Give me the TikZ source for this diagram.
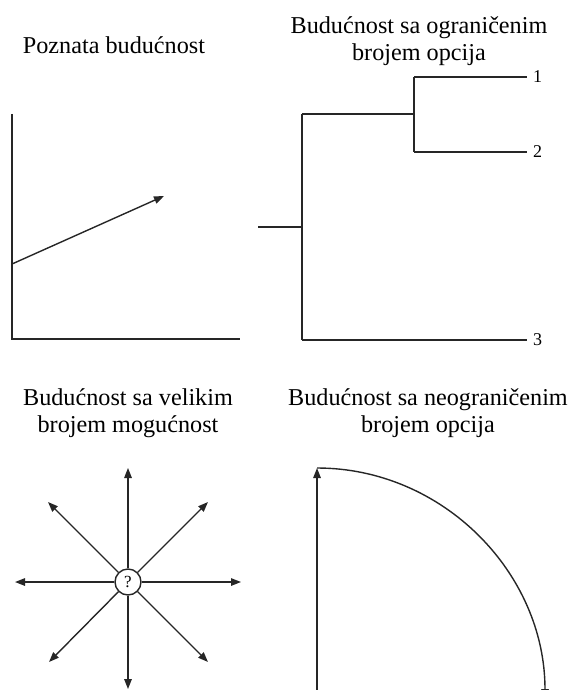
\documentclass[tikz,border=0pt]{standalone}
\usepackage{fontspec}
\setmainfont{Liberation Serif}
\usetikzlibrary{arrows.meta}
\begin{document}
\begin{tikzpicture}[x=1pt,y=-1pt,
  ln/.style={line width=1.4pt,draw=black!85},
  arr/.style={ln,-{Triangle[length=10pt,width=7.5pt]}},
  title/.style={font=\fontsize{24.2}{27.5}\selectfont,align=center,inner sep=0pt},
  lab/.style={font=\fontsize{18}{20}\selectfont,inner ysep=1pt,inner xsep=6pt,anchor=west}]
\useasboundingbox (0,0) rectangle (567,690);
% titles
\node[title] (t1) at (114,45) {Poznata budućnost};
\node[title] (t2) at (419,41) {Budućnost sa ograničenim\\brojem opcija};
\node[title] (t3) at (128,413) {Budućnost sa velikim\\brojem mogućnost};
\node[title] (t4) at (428,413) {Budućnost sa neograničenim\\brojem opcija};
% panel 1
\coordinate (ytop) at (12,114);
\coordinate (orig) at (12,339);
\coordinate (xend) at (240,339);
\coordinate (a0) at (12,264);
\coordinate (a1) at (164,196);
\draw[ln] (ytop) -- (orig) -- (xend);
\draw[arr] (a0) -- (a1);
% panel 2 tree
\coordinate (s0) at (258,227);
\coordinate (s1) at (302,227);
\coordinate (v1t) at (302,114);
\coordinate (v1b) at (302,340);
\coordinate (b1) at (414,114);
\coordinate (b1t) at (414,77);
\coordinate (b1b) at (414,152);
\node[lab] (l1) at (527,77) {1};
\node[lab] (l2) at (527,152) {2};
\node[lab] (l3) at (527,340) {3};
\draw[ln] (s0) -- (s1);
\draw[ln] (v1t) -- (v1b);
\draw[ln] (v1t) -- (b1);
\draw[ln] (b1t) -- (b1b);
\draw[ln] (b1t) -- (l1.west);
\draw[ln] (b1b) -- (l2.west);
\draw[ln] (v1b) -- (l3.west);
% panel 3 star
\node[circle,ln,minimum size=26pt,inner sep=0pt,font=\fontsize{17}{19}\selectfont] (c) at (128,582) {?};
\coordinate (pu) at (128,468);
\coordinate (pd) at (128,689);
\coordinate (pl) at (15,582);
\coordinate (pr) at (241,582);
\coordinate (pul) at (48,502);
\coordinate (pur) at (208,502);
\coordinate (pll) at (49,662);
\coordinate (plr) at (208,662);
\foreach \p in {pu,pd,pl,pr,pul,pur,pll,plr} \draw[arr] (c) -- (\p);
% panel 4
\coordinate (q0) at (317,700);
\coordinate (q1) at (317,468);
\coordinate (q2) at (545,699);
\draw[arr] (q0) -- (q1);
\draw[arr] (q1) .. controls (443,468) and (545,573) .. (q2);
\end{tikzpicture}
\end{document}
